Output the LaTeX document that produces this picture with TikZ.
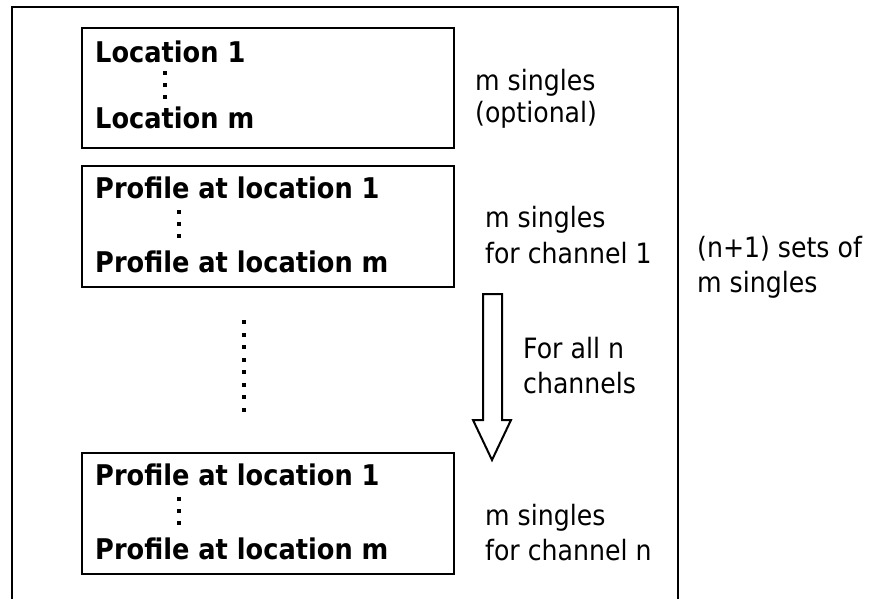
\documentclass[tikz,border=0pt]{standalone}
\usepackage{fontspec}
\setmainfont{DejaVu Sans}[FakeStretch=0.9]
\begin{document}
\begin{tikzpicture}[x=1pt,y=-1pt,
  frame/.style={line width=2pt},
  boxnode/.style={draw, line width=2pt, rectangle, inner sep=0pt, anchor=north west, minimum width=372pt},
  btxt/.style={anchor=base west, inner sep=0pt, font=\fontsize{28.5}{32}\selectfont\bfseries},
  rtxt/.style={anchor=base west, inner sep=0pt, font=\fontsize{28}{32}\selectfont},
  sqdot/.style={fill=black, rectangle, minimum size=4pt, inner sep=0pt},
  bigarrow/.style={draw, line width=2pt, line join=miter, fill=white}]
\useasboundingbox (0,0) rectangle (875,598);
% outer frame (open at the bottom)
\coordinate (fbl) at (12,610);
\coordinate (ftr) at (678,7);
\coordinate (fbr) at (678,610);
\draw[frame] (fbl) |- (ftr) -- (fbr);
% boxes
\node[boxnode, minimum height=120pt] (b1) at (81,27) {};
\node[boxnode, minimum height=121pt] (b2) at (81,165) {};
\node[boxnode, minimum height=121pt] (b3) at (81,452) {};
% box 1 text
\node[btxt] (l1) at (95,62) {Location 1};
\node[btxt] (lm) at (95,128) {Location m};
\foreach \y [count=\i] in {73,85,97} \node[sqdot] (d1\i) at (165,\y) {};
% box 2 text
\node[btxt] (p1) at (95,198) {Profile at location 1};
\node[btxt] (pm) at (95,272) {Profile at location m};
\foreach \y [count=\i] in {212,224,236} \node[sqdot] (d2\i) at (179,\y) {};
% box 3 text
\node[btxt] (q1) at (95,485) {Profile at location 1};
\node[btxt] (qm) at (95,559) {Profile at location m};
\foreach \y [count=\i] in {499,511,523} \node[sqdot] (d3\i) at (179,\y) {};
% vertical dotted column
\foreach \y [count=\i] in {322,334.5,347,359.5,372,384.5,397,409.5} \node[sqdot] (dm\i) at (244,\y) {};
% right labels
\node[rtxt] (r1a) at (475,90) {m singles};
\node[rtxt] (r1b) at (475,122) {(optional)};
\node[rtxt] (r2a) at (485,227) {m singles};
\node[rtxt] (r2b) at (485,263) {for channel 1};
\node[rtxt] (r3a) at (485,525) {m singles};
\node[rtxt] (r3b) at (485,560) {for channel n};
\node[rtxt] (fa) at (523,358) {For all n};
\node[rtxt] (fb) at (523,393) {channels};
\node[rtxt] (s1) at (697,257) {(n+1) sets of};
\node[rtxt] (s2) at (697,292) {m singles};
% big hollow arrow
\draw[bigarrow] (483,294) -- (502,294) -- (502,420) -- (511,420) -- (492,460) -- (473,420) -- (483,420) -- cycle;
\end{tikzpicture}
\end{document}
